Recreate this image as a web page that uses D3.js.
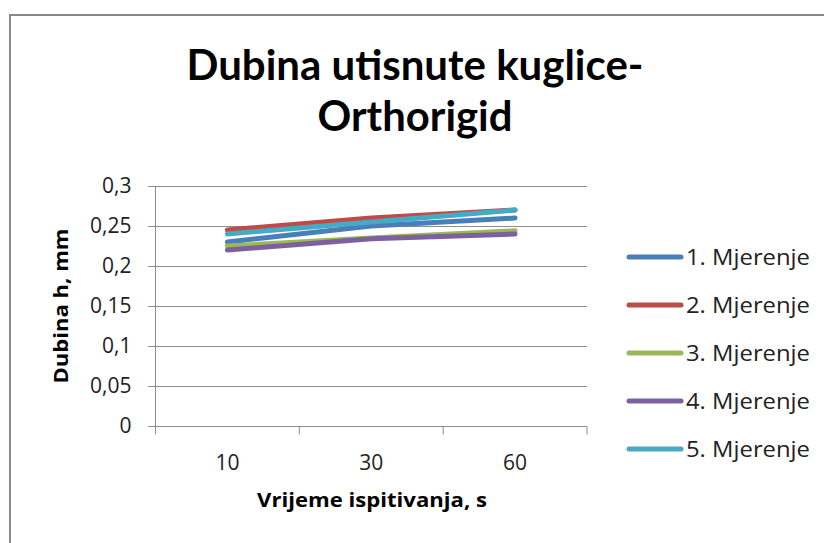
<!DOCTYPE html>
<html>
<head>
<meta charset="utf-8">
<script src="https://cdn.jsdelivr.net/npm/d3@7"></script>
<style>
  body { margin: 0; background: #fff; }
  text { font-family: "Open Sans", "Noto Sans", sans-serif; fill: #000; }
</style>
</head>
<body>
<script>
// chart data
const categories = ["10", "30", "60"];
const seriesNames = ["1. Mjerenje", "2. Mjerenje", "3. Mjerenje", "4. Mjerenje", "5. Mjerenje"];
const mjerenje1 = [0.23, 0.25, 0.26];
const mjerenje2 = [0.245, 0.26, 0.27];
const mjerenje3 = [0.225, 0.235, 0.244];
const mjerenje4 = [0.22, 0.234, 0.24];
const mjerenje5 = [0.24, 0.255, 0.27];
const yTicks = [0, 0.05, 0.1, 0.15, 0.2, 0.25, 0.3];
const titleLines = ["Dubina utisnute kuglice-", "Orthorigid"];

const seriesValues = [mjerenje1, mjerenje2, mjerenje3, mjerenje4, mjerenje5];
const colors = ["#4A7EBB", "#BE4B48", "#98B954", "#7D60A0", "#46AAC5"];

//SVG dimension variables
const w = 824, h = 543;
const margin = { top: 186, right: 237, bottom: 117, left: 155.5 };

var svg = d3.select("body")
    .append("svg")
    .attr("width", w)
    .attr("height", h);

//outer chart border (cropped at right and bottom)
svg.append("rect")
    .attr("x", 10)
    .attr("y", 15)
    .attr("width", 900)
    .attr("height", 700)
    .style("fill", "none")
    .style("stroke", "#888")
    .style("stroke-width", 2);

//title, squeezed to the width of the original narrow font
const titleWidths = [457, 195];
svg.selectAll(".title")
    .data(titleLines)
    .enter()
    .append("text")
    .attr("class", "title")
    .attr("text-anchor", "middle")
    .attr("x", 415)
    .attr("y", (d, i) => 80 + i * 51)
    .attr("textLength", (d, i) => titleWidths[i])
    .attr("lengthAdjust", "spacingAndGlyphs")
    .style("font-family", "Lato, 'Open Sans', sans-serif")
    .style("font-size", "42px")
    .style("font-weight", "bold")
    .text(d => d);

//scales
var x = d3.scaleBand()
    .domain(categories)
    .range([margin.left, w - margin.right]);

var y = d3.scaleLinear()
    .domain([0, 0.3])
    .range([h - margin.bottom, margin.top]);

const locale = d3.formatLocale({ decimal: ",", thousands: ".", grouping: [3], currency: ["", ""] });
const fmt = locale.format("~g");

//horizontal gridlines
svg.append("g")
    .selectAll("line")
    .data(yTicks)
    .enter()
    .append("line")
    .attr("x1", margin.left - 7)
    .attr("x2", w - margin.right)
    .attr("y1", d => Math.round(y(d)) + 0.5)
    .attr("y2", d => Math.round(y(d)) + 0.5)
    .style("stroke", "#8c8c8c")
    .style("stroke-width", 1);

//y axis
var yAxis = d3.axisLeft(y)
    .tickValues(yTicks)
    .tickFormat(fmt)
    .tickSize(7)
    .tickPadding(17);

var gy = svg.append("g")
    .attr("transform", `translate(${margin.left},0)`)
    .call(yAxis);
gy.select(".domain").remove();
gy.selectAll(".tick line").style("stroke", "#8c8c8c");
gy.selectAll(".tick text")
    .style("font-size", "21px")
    .style("font-family", "'Open Sans', sans-serif")
    .style("fill", "#222");

svg.append("line")
    .attr("x1", margin.left)
    .attr("x2", margin.left)
    .attr("y1", margin.top)
    .attr("y2", h - margin.bottom + 8)
    .style("stroke", "#8c8c8c");

//x axis with ticks on band boundaries
var gx = svg.append("g")
    .attr("transform", `translate(0,${Math.round(y(0)) + 0.5})`);

gx.selectAll(".xtick")
    .data(categories.map(c => x(c)).concat([w - margin.right]))
    .enter()
    .append("line")
    .attr("x1", d => d)
    .attr("x2", d => d)
    .attr("y1", 0)
    .attr("y2", 8)
    .style("stroke", "#8c8c8c");

gx.selectAll(".xlabel")
    .data(categories)
    .enter()
    .append("text")
    .attr("text-anchor", "middle")
    .attr("x", d => x(d) + x.bandwidth() / 2)
    .attr("y", 43)
    .style("font-size", "21px")
    .style("fill", "#222")
    .text(d => d);

//axis titles
svg.append("text")
    .attr("text-anchor", "middle")
    .attr("x", 372)
    .attr("y", 507)
    .attr("textLength", 230)
    .attr("lengthAdjust", "spacingAndGlyphs")
    .style("font-size", "20px")
    .style("font-weight", "bold")
    .text("Vrijeme ispitivanja, s");

svg.append("text")
    .attr("text-anchor", "middle")
    .attr("transform", "translate(68,306) rotate(-90)")
    .attr("textLength", 155)
    .attr("lengthAdjust", "spacingAndGlyphs")
    .style("font-size", "20px")
    .style("font-weight", "bold")
    .text("Dubina h, mm");

//series lines
var line = d3.line()
    .x((d, i) => x(categories[i]) + x.bandwidth() / 2)
    .y(d => y(d));

svg.selectAll(".series")
    .data(seriesValues)
    .enter()
    .append("path")
    .attr("class", "series")
    .attr("d", d => line(d))
    .style("fill", "none")
    .style("stroke", (d, i) => colors[i])
    .style("stroke-width", 5)
    .style("stroke-linecap", "round")
    .style("stroke-linejoin", "round");

//legend
var legend = svg.selectAll(".legend")
    .data(seriesNames)
    .enter()
    .append("g")
    .attr("class", "legend")
    .attr("transform", (d, i) => `translate(627,${257 + i * 48})`);

legend.append("line")
    .attr("x1", 2)
    .attr("x2", 54)
    .style("stroke", (d, i) => colors[i])
    .style("stroke-width", 5)
    .style("stroke-linecap", "round");

legend.append("text")
    .attr("x", 59)
    .attr("y", 8)
    .attr("textLength", 124)
    .attr("lengthAdjust", "spacingAndGlyphs")
    .style("font-size", "22px")
    .style("fill", "#222")
    .text(d => d);
</script>
</body>
</html>
